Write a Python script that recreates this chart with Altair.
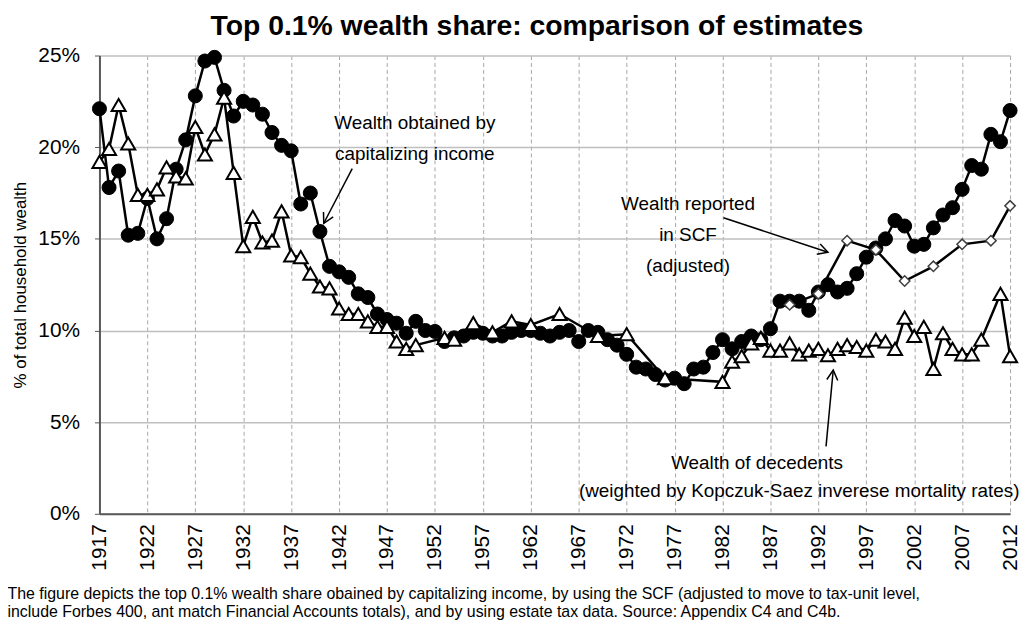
import math
import altair as alt
import pandas as pd

TITLE = "Top 0.1% wealth share: comparison of estimates"
Y_TITLE = "% of total household wealth"
FOOTNOTE = [
    "The figure depicts the top 0.1% wealth share obained by capitalizing income, by using the SCF (adjusted to move to tax-unit level,",
    "include Forbes 400, ant match Financial Accounts totals), and by using estate tax data. Source: Appendix C4 and C4b.",
]

# Wealth obtained by capitalizing income (% of total household wealth), 1917-2012
cap_years = list(range(1917, 2013))
cap_values = [
    22.1, 17.8, 18.7, 15.2, 15.3, 17.2, 15.0, 16.1, 18.8, 20.4,   # 1917-1926
    22.8, 24.7, 24.9, 23.1, 21.7, 22.5, 22.3, 21.8, 20.8, 20.1,   # 1927-1936
    19.8, 16.9, 17.5, 15.4, 13.5, 13.2, 12.9, 12.0, 11.8, 10.9,   # 1937-1946
    10.6, 10.4, 9.85, 10.5, 10.0, 9.95, 9.4, 9.6, 9.7, 9.9,       # 1947-1956
    9.85, 9.7, 9.7, 9.9, 10.0, 10.0, 9.85, 9.7, 9.9, 10.0,        # 1957-1966
    9.4, 10.0, 9.9, 9.5, 9.2, 8.7, 8.0, 7.9, 7.6, 7.3,            # 1967-1976
    7.4, 7.1, 7.9, 8.0, 8.8, 9.5, 9.0, 9.4, 9.7, 9.5,             # 1977-1986
    10.1, 11.6, 11.6, 11.6, 11.1, 12.1, 12.5, 12.1, 12.3, 13.1,   # 1987-1996
    14.0, 14.5, 15.0, 16.0, 15.7, 14.6, 14.7, 15.6, 16.3, 16.7,   # 1997-2006
    17.7, 19.0, 18.8, 20.7, 20.3, 22.0,                           # 2007-2012
]

# Wealth of decedents (estate tax based)
estate_years = [
    1917, 1918, 1919, 1920, 1921, 1922, 1923, 1924, 1925, 1926,
    1927, 1928, 1929, 1930, 1931, 1932, 1933, 1934, 1935, 1936,
    1937, 1938, 1939, 1940, 1941, 1942, 1943, 1944, 1945, 1946,
    1947, 1948, 1949, 1950, 1953, 1954, 1956, 1958, 1960, 1962,
    1965, 1969, 1972, 1976, 1982, 1983, 1984, 1985, 1986, 1987,
    1988, 1989, 1990, 1991, 1992, 1993, 1994, 1995, 1996, 1997,
    1998, 1999, 2000, 2001, 2002, 2003, 2004, 2005, 2006, 2007,
    2008, 2009, 2011, 2012,
]
estate_values = [
    19.2, 19.9, 22.3, 20.2, 17.4, 17.4, 17.7, 18.9, 18.4, 18.3,
    21.1, 19.6, 20.7, 22.7, 18.6, 14.6, 16.2, 14.8, 14.9, 16.5,
    14.1, 14.0, 13.1, 12.4, 12.3, 11.2, 10.9, 10.9, 10.5, 10.2,
    10.2, 9.4, 9.0, 9.2, 9.6, 9.5, 10.4, 9.9, 10.5, 10.3,
    10.9, 9.7, 9.8, 7.4, 7.2, 8.3, 8.6, 9.3, 9.6, 8.9,
    8.9, 9.3, 8.7, 8.9, 9.0, 8.65, 9.0, 9.2, 9.1, 8.9,
    9.5, 9.4, 9.0, 10.7, 9.7, 10.2, 7.9, 9.85, 9.0, 8.7,
    8.7, 9.5, 12.0, 8.6,
]

# Wealth reported in SCF (adjusted)
scf_years = [1989, 1992, 1995, 1998, 2001, 2004, 2007, 2010, 2012]
scf_values = [11.4, 12.0, 14.9, 14.4, 12.7, 13.5, 14.7, 14.9, 16.8]

x_ticks = list(range(1917, 2013, 5))
y_ticks = [0.0, 0.05, 0.10, 0.15, 0.20, 0.25]

# Annotation texts, anchored in data coordinates (year, share)
label_text = [
    "Wealth obtained by", "capitalizing income",
    "Wealth reported", "in SCF", "(adjusted)",
    "Wealth of decedents",
    "(weighted by Kopczuk-Saez inverese mortality rates)",
]
label_year = [1949.9, 1949.9, 1978.4, 1978.4, 1978.4, 1985.6, 1990.0]
label_value = [21.3, 19.6, 16.9, 15.2, 13.5, 2.76, 1.24]

# Arrows: start (year, share) -> tip (year, share)
arrow_year = [1943.37, 1982.1, 1992.8]
arrow_value = [18.83, 16.15, 3.68]
arrow_year2 = [1940.4, 1993.0, 1993.55]
arrow_value2 = [15.85, 14.27, 7.84]

W, H = 916, 461
FONT = "Liberation Sans"

cap_df = pd.DataFrame({"year": cap_years, "value": [v / 100 for v in cap_values]})
est_df = pd.DataFrame({"year": estate_years, "value": [v / 100 for v in estate_values]})
scf_df = pd.DataFrame({"year": scf_years, "value": [v / 100 for v in scf_values]})
lab_df = pd.DataFrame({"year": label_year, "value": [v / 100 for v in label_value], "text": label_text})

px_year = W / (2012 - 1917)
px_val = H / 0.25
angles = []
for x1, y1, x2, y2 in zip(arrow_year, arrow_value, arrow_year2, arrow_value2):
    dx = (x2 - x1) * px_year
    dy = -(y2 - y1) / 100 * px_val
    angles.append(math.degrees(math.atan2(dy, dx)) % 360)
arr_df = pd.DataFrame({
    "year": arrow_year, "value": [v / 100 for v in arrow_value],
    "year2": arrow_year2, "value2": [v / 100 for v in arrow_value2],
    "angle": angles,
})

xs = alt.Scale(domain=[1917, 2012], nice=False, zero=False)
ys = alt.Scale(domain=[0, 0.25], nice=False)

x_axis = alt.Axis(
    values=x_ticks, format="d", labelAngle=270, labelAlign="right", labelBaseline="middle",
    labelFontSize=21, labelFont=FONT, labelColor="black", labelPadding=10,
    labelFlush=False, labelOverlap=False, ticks=False,
    domainColor="#595959", domainWidth=2,
    grid=True, gridDash=[4, 3], gridColor="#a6a6a6", gridWidth=1,
    title=FOOTNOTE, titleFont=FONT, titleFontSize=16, titleFontWeight="normal",
    titleColor="black", titleAnchor="start", titleAlign="left", titleBaseline="alphabetic",
    titleX=-93, titleY=85, titleLineHeight=18,
)
y_axis = alt.Axis(
    values=y_ticks, format=".0%", labelFontSize=21, labelFont=FONT, labelColor="black",
    labelPadding=15, tickSize=5, tickColor="#595959",
    domainColor="#595959", domainWidth=2,
    grid=True, gridColor="#bfbfbf", gridWidth=1.5,
    title=Y_TITLE, titleFont=FONT, titleFontSize=17, titleFontWeight="normal",
    titleColor="black", titlePadding=8,
)


def X(field="year"):
    return alt.X(f"{field}:Q", scale=xs, axis=x_axis)


def Y(field="value"):
    return alt.Y(f"{field}:Q", scale=ys, axis=y_axis)


cap_line = alt.Chart(cap_df).mark_line(color="black", strokeWidth=2.5).encode(x=X(), y=Y())
cap_pts = alt.Chart(cap_df).mark_point(
    shape="circle", filled=True, fill="black", stroke="black", strokeWidth=1, size=200, opacity=1
).encode(x=X(), y=Y())
est_line = alt.Chart(est_df).mark_line(color="black", strokeWidth=2.5).encode(x=X(), y=Y())
est_pts = alt.Chart(est_df).mark_point(
    shape="triangle-up", filled=True, fill="white", stroke="black", strokeWidth=2, size=200, opacity=1
).encode(x=X(), y=Y())
scf_line = alt.Chart(scf_df).mark_line(color="black", strokeWidth=2.5).encode(x=X(), y=Y())
scf_pts = alt.Chart(scf_df).mark_point(
    shape="diamond", filled=True, fill="white", stroke="#404040", strokeWidth=1.5, size=110, opacity=1
).encode(x=X(), y=Y())

labels = alt.Chart(lab_df).mark_text(
    font=FONT, fontSize=19, align="center", baseline="middle", color="black"
).encode(x=X(), y=Y(), text="text:N")

arrows = alt.Chart(arr_df).mark_rule(color="black", strokeWidth=1.5).encode(
    x=X(), y=Y(), x2="year2:Q", y2="value2:Q"
)
heads = alt.Chart(arr_df).mark_point(
    shape="M-1,-0.55L0,0L-1,0.55", filled=False, stroke="black", strokeWidth=1.5, size=400, opacity=1
).encode(
    x=X("year2"), y=Y("value2"),
    angle=alt.Angle("angle:Q", scale=None),
)

chart = alt.layer(
    cap_line, cap_pts, est_line, est_pts, scf_line, scf_pts, labels, arrows, heads
).properties(
    width=W, height=H,
    title=alt.TitleParams(
        TITLE, font=FONT, fontSize=28.5, fontWeight="bold", color="black",
        anchor="middle", dx=-18, offset=4,
    ),
    autosize=alt.AutoSizeParams(type="none"),
    padding={"left": 92, "top": 46, "right": 12, "bottom": 106},
    background="white",
).configure_view(stroke=None)

chart.save("out.html", embed_options={"renderer": "svg", "actions": False})
